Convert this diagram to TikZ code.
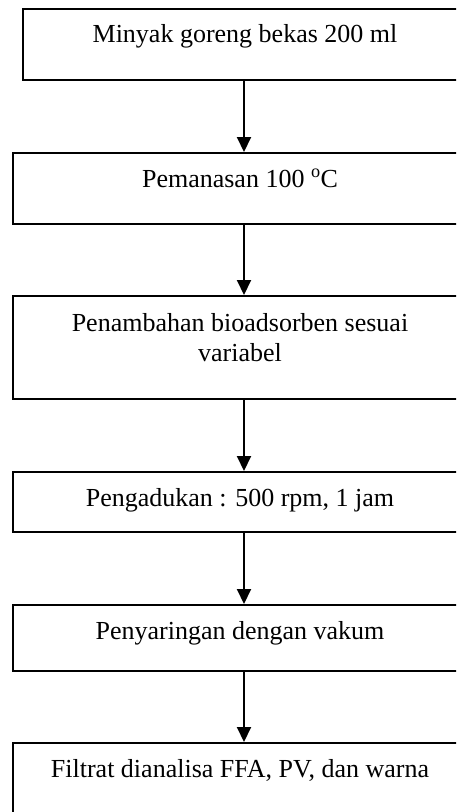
\documentclass[tikz,border=0pt]{standalone}
\usepackage{fontspec}
\setmainfont{Liberation Serif}
\usetikzlibrary{arrows.meta,calc}
\tikzset{
  box/.style={draw=black, line width=2pt, rectangle, inner sep=0pt, fill=white},
  txt/.style={anchor=base, inner sep=0pt, align=center, font=\fontsize{26}{30}\selectfont},
  arr/.style={line width=2pt, -{Triangle[width=14pt,length=15pt]}}
}
\begin{document}
\begin{tikzpicture}[x=1pt,y=-1pt]
\useasboundingbox (0,0) rectangle (456,812);
\clip (0,0) rectangle (456,812);
\coordinate (ax) at (244,0);
% boxes
\node[box, minimum width=444pt, minimum height=71pt] (b1) at (245,44.5) {};
\node[box, minimum width=454pt, minimum height=71pt] (b2) at (240,188.5) {};
\node[box, minimum width=454pt, minimum height=103pt] (b3) at (240,347.5) {};
\node[box, minimum width=454pt, minimum height=60pt] (b4) at (240,502) {};
\node[box, minimum width=454pt, minimum height=66pt] (b5) at (240,638) {};
\node[box, minimum width=454pt, minimum height=80pt] (b6) at (240,783) {};
% texts
\node[txt] (t1) at ($(b1.north)+(0,34.5)$) {Minyak goreng bekas 200 ml};
\node[txt] (t2) at ($(b2.north)+(0,35)$) {Pemanasan 100 \textsuperscript{o}C};
\node[txt] (t3) at ($(b3.north)+(0,66)$) {Penambahan bioadsorben sesuai\\variabel};
\node[txt] (t4) at ($(b4.north)+(0,35)$) {Pengadukan : 500 rpm, 1 jam};
\node[txt] (t5) at ($(b5.north)+(0,35)$) {Penyaringan dengan vakum};
\node[txt] (t6) at ($(b6.north)+(0,35)$) {Filtrat dianalisa FFA, PV, dan warna};
% arrows
\draw[arr] (b1.south -| ax) -- (b2.north -| ax);
\draw[arr] (b2.south -| ax) -- (b3.north -| ax);
\draw[arr] (b3.south -| ax) -- (b4.north -| ax);
\draw[arr] (b4.south -| ax) -- (b5.north -| ax);
\draw[arr] (b5.south -| ax) -- (b6.north -| ax);
\end{tikzpicture}
\end{document}
